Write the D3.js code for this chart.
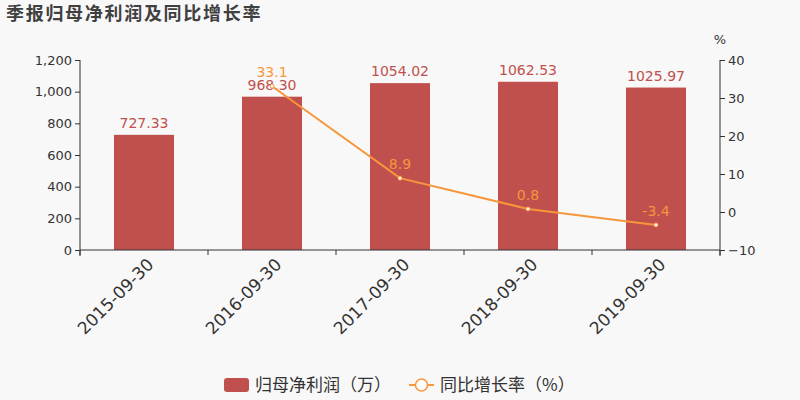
<!DOCTYPE html>
<html><head><meta charset="utf-8">
<script src="https://cdn.jsdelivr.net/npm/d3@7/dist/d3.min.js"></script>
<style>body{margin:0;background:#f8f8f8;}svg{display:block;font-family:"DejaVu Sans",sans-serif;}</style>
</head><body><svg id="c" width="800" height="400"></svg>
<script>
const categories = ["2015-09-30","2016-09-30","2017-09-30","2018-09-30","2019-09-30"];
const profit = [727.33, 968.30, 1054.02, 1062.53, 1025.97];
const growth = [null, 33.1, 8.9, 0.8, -3.4];
const leftTicks = [0,200,400,600,800,1000,1200];
const rightTicks = [-10,0,10,20,30,40];

const svg = d3.select("#c");
svg.append("rect").attr("width",800).attr("height",400).attr("fill","#f8f8f8");
const L=80,R=720,T=60,B=250;
const x = d3.scaleBand().domain(categories).range([L,R]);
const yL = d3.scaleLinear().domain([0,1200]).range([B,T]);
const yR = d3.scaleLinear().domain([-10,40]).range([B,T]);
const barColor="#c0504d", lineColor="#f7963c", axisColor="#333";

svg.append("text").attr("x",6).attr("y",20).attr("font-size",18).attr("font-weight","bold")
  .attr("letter-spacing",1.7)
  .attr("fill","#404040").attr("font-family","'Noto Sans CJK SC',sans-serif").text("季报归母净利润及同比增长率");

// bars
svg.selectAll("rect.bar").data(categories).enter().append("rect")
  .attr("x",d=>x(d)+x.bandwidth()/2-30).attr("width",60)
  .attr("y",(d,i)=>yL(profit[i])).attr("height",(d,i)=>B-yL(profit[i])).attr("fill",barColor);
svg.selectAll("text.bl").data(categories).enter().append("text")
  .attr("x",d=>x(d)+x.bandwidth()/2).attr("y",(d,i)=>yL(profit[i])-7)
  .attr("text-anchor","middle").attr("font-size",14).attr("fill",barColor)
  .text((d,i)=>profit[i].toFixed(2));

// axes
const axL = svg.append("g").attr("transform",`translate(${L},0)`)
  .call(d3.axisLeft(yL).tickValues(leftTicks).tickSize(5).tickFormat(d3.format(",")));
const axR = svg.append("g").attr("transform",`translate(${R},0)`)
  .call(d3.axisRight(yR).tickValues(rightTicks).tickSize(5));
const axB = svg.append("g").attr("transform",`translate(0,${B})`)
  .call(d3.axisBottom(x).tickSize(5).tickSizeOuter(0));
axB.selectAll(".tick line").attr("transform",`translate(${-x.bandwidth()/2},0)`);
axB.append("line").attr("x1",R).attr("x2",R).attr("y1",0).attr("y2",5);
[axL,axR,axB].forEach(a=>{a.selectAll("path,line").attr("stroke",axisColor);
  a.selectAll("text").attr("fill","#333").attr("font-size",13).attr("font-family","'DejaVu Sans',sans-serif");});
axL.select("path").attr("d",`M0,${T}V${B+6}`);
axR.select("path").attr("d",`M0,${T}V${B+6}`);
axB.select("path").attr("d",`M${L},0H${R}`);
axB.selectAll("text").attr("font-size",17).attr("text-anchor","end")
  .attr("transform","translate(-1,4) rotate(-45)").attr("dy","0.5em").attr("dx","0");
svg.append("text").attr("x",720).attr("y",44).attr("text-anchor","middle").attr("font-size",13)
  .attr("fill","#333").text("%");

// line
const pts = categories.map((c,i)=>({c,v:growth[i]})).filter(p=>p.v!==null);
svg.append("path").datum(pts).attr("fill","none").attr("stroke",lineColor).attr("stroke-width",2)
  .attr("d",d3.line().x(p=>x(p.c)+x.bandwidth()/2).y(p=>yR(p.v)));
svg.selectAll("circle.pt").data(pts).enter().append("circle")
  .attr("cx",p=>x(p.c)+x.bandwidth()/2).attr("cy",p=>yR(p.v)).attr("r",2)
  .attr("fill","#fff").attr("stroke",lineColor).attr("stroke-width",1);
svg.selectAll("text.gl").data(pts).enter().append("text")
  .attr("x",p=>x(p.c)+x.bandwidth()/2).attr("y",p=>yR(p.v)-9)
  .attr("text-anchor","middle").attr("font-size",14).attr("fill",lineColor).text(p=>p.v);

// legend
const lg = svg.append("g").attr("font-family","'Noto Sans CJK SC',sans-serif");
lg.append("rect").attr("x",224).attr("y",378).attr("width",25).attr("height",14).attr("rx",3).attr("fill",barColor);
lg.append("text").attr("x",255).attr("y",391).attr("font-size",17).attr("fill","#333").text("归母净利润（万）");
lg.append("line").attr("x1",409).attr("x2",434).attr("y1",385).attr("y2",385).attr("stroke",lineColor).attr("stroke-width",2);
lg.append("circle").attr("cx",421.5).attr("cy",385).attr("r",6).attr("fill","#fff").attr("stroke",lineColor).attr("stroke-width",1.5);
lg.append("text").attr("x",440).attr("y",391).attr("font-size",17).attr("fill","#333").text("同比增长率（%）");
</script></body></html>
